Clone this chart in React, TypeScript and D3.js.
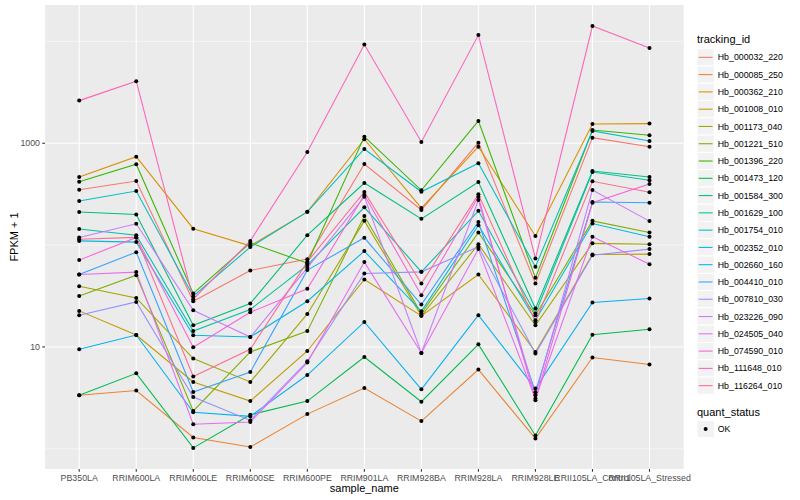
import { useRef, useEffect } from 'react';
import * as d3 from 'd3';

const WIDTH = 800;
const HEIGHT = 500;
const PANEL = { left: 45, right: 683.7, top: 5, bottom: 469 };
const FONT = '"Liberation Sans", Arial, Helvetica, sans-serif';

const samples = [
  'PB350LA', 'RRIM600LA', 'RRIM600LE', 'RRIM600SE', 'RRIM600PE', 'RRIM901LA',
  'RRIM928BA', 'RRIM928LA', 'RRIM928LE', 'RRII105LA_Control', 'RRII105LA_Stressed',
];

const trackingIds = [
  'Hb_000032_220', 'Hb_000085_250', 'Hb_000362_210', 'Hb_001008_010', 'Hb_001173_040',
  'Hb_001221_510', 'Hb_001396_220', 'Hb_001473_120', 'Hb_001584_300', 'Hb_001629_100',
  'Hb_001754_010', 'Hb_002352_010', 'Hb_002660_160', 'Hb_004410_010', 'Hb_007810_030',
  'Hb_023226_090', 'Hb_024505_040', 'Hb_074590_010', 'Hb_111648_010', 'Hb_116264_010',
];

// ggplot2 default hue palette for 20 levels
const hueColors = [
  '#F8766D', '#EA8331', '#D89000', '#C09B00', '#A3A500', '#7CAE00', '#39B600',
  '#00BB4E', '#00BF7D', '#00C1A3', '#00BFC4', '#00BAE0', '#00B0F6', '#35A2FF',
  '#9590FF', '#C77CFF', '#E76BF3', '#FA62DB', '#FF62BC', '#FF6C91',
];

// FPKM + 1, one array per gene, in sample order
const hb000032 = [350, 426, 28.1, 56.4, 72.8, 626, 221, 1014, 42.0, 1135, 926];
const hb000085 = [3.35, 3.73, 1.29, 1.04, 2.19, 3.95, 1.87, 5.99, 1.26, 7.87, 6.71];
const hb000362 = [466, 738, 145, 98.4, 212, 1095, 231, 926, 123, 1548, 1559];
const hb001008 = [22.6, 13.1, 4.53, 2.94, 9.13, 46.0, 20.2, 51.5, 8.93, 81.0, 81.6];
const hb001173 = [39.5, 30.3, 7.69, 4.53, 21.1, 173, 20.2, 102, 16.3, 104, 102];
const hb001221 = [31.7, 50.7, 2.35, 8.93, 14.3, 193, 21.3, 133, 20.5, 173, 133];
const hb001396 = [419, 622, 33.5, 105, 66.5, 1161, 345, 1657, 47.7, 1351, 1198];
const hb001473 = [3.35, 5.51, 1.02, 2.16, 2.94, 7.97, 2.90, 10.6, 1.35, 13.2, 14.9];
const hb001584 = [211, 200, 16.3, 26.7, 125, 407, 181, 416, 23.8, 534, 466];
const hb001629 = [144, 125, 14.3, 23.3, 63.6, 235, 54.6, 217, 21.3, 522, 433];
const hb001754 = [271, 340, 31.5, 95.6, 212, 879, 334, 636, 61.2, 1321, 1053];
const hb002352 = [110, 107, 13.0, 12.5, 28.1, 87.3, 22.4, 157, 18.3, 163, 121];
const hb002660 = [9.49, 13.1, 2.28, 2.08, 5.30, 17.6, 3.84, 20.5, 3.90, 27.3, 29.9];
const hb004410 = [51.5, 85.3, 3.61, 5.68, 56.8, 118, 26.1, 169, 3.59, 265, 261];
const hb007810 = [20.5, 27.7, 3.22, 1.90, 7.23, 52.7, 54.6, 96.2, 8.61, 79.7, 91.3];
const hb023226 = [119, 162, 22.9, 12.5, 59.8, 298, 8.73, 277, 3.35, 347, 172];
const hb024505 = [51.5, 54.3, 1.74, 1.83, 7.02, 68.1, 8.73, 91.3, 3.11, 121, 65.0];
const hb074590 = [71.2, 119, 9.93, 21.9, 37.2, 310, 32.2, 298, 2.99, 261, 398];
const hb111648 = [2622, 4070, 29.4, 110, 821, 9322, 1030, 11530, 74.0, 14140, 8593];
const hb116264 = [114, 119, 5.12, 9.49, 68.5, 332, 42.0, 315, 17.6, 423, 330];

const seriesValues = [
  hb000032, hb000085, hb000362, hb001008, hb001173, hb001221, hb001396, hb001473,
  hb001584, hb001629, hb001754, hb002352, hb002660, hb004410, hb007810, hb023226,
  hb024505, hb074590, hb111648, hb116264,
];

const yMajor = [10, 1000];
const yMinor = [1, 100, 10000];

interface Pt { sample: string; value: number; }

export default function App() {
  const svgRef = useRef<SVGSVGElement>(null);

  useEffect(() => {
    if (!svgRef.current) return;
    const svg = d3.select(svgRef.current);
    svg.selectAll('*').remove();

    // ── Scales ─────────────────────────────────────────────────────────
    const x = d3.scalePoint<string>().domain(samples).range([PANEL.left, PANEL.right]).padding(0.6);

    const allLogs = seriesValues.flat().map((v) => Math.log10(v));
    const lo = d3.min(allLogs)!;
    const hi = d3.max(allLogs)!;
    const pad = (hi - lo) * 0.05;
    const y = d3
      .scaleLog()
      .domain([Math.pow(10, lo - pad), Math.pow(10, hi + pad)])
      .range([PANEL.bottom, PANEL.top]);

    svg.append('rect').attr('width', WIDTH).attr('height', HEIGHT).attr('fill', '#ffffff');

    // ── Panel + grid ───────────────────────────────────────────────────
    svg.append('rect')
      .attr('x', PANEL.left).attr('y', PANEL.top)
      .attr('width', PANEL.right - PANEL.left).attr('height', PANEL.bottom - PANEL.top)
      .attr('fill', '#EBEBEB');

    const grid = svg.append('g').attr('stroke', '#ffffff');
    grid.selectAll('line.minor')
      .data(yMinor)
      .join('line')
      .attr('x1', PANEL.left).attr('x2', PANEL.right)
      .attr('y1', (d) => y(d)).attr('y2', (d) => y(d))
      .attr('stroke-width', 0.53);
    grid.selectAll('line.major')
      .data(yMajor)
      .join('line')
      .attr('x1', PANEL.left).attr('x2', PANEL.right)
      .attr('y1', (d) => y(d)).attr('y2', (d) => y(d))
      .attr('stroke-width', 1.07);
    grid.selectAll('line.vert')
      .data(samples)
      .join('line')
      .attr('x1', (d) => x(d)!).attr('x2', (d) => x(d)!)
      .attr('y1', PANEL.top).attr('y2', PANEL.bottom)
      .attr('stroke-width', 1.07);

    // ── Lines ──────────────────────────────────────────────────────────
    const line = d3.line<Pt>().x((d) => x(d.sample)!).y((d) => y(d.value));
    seriesValues.forEach((vals, i) => {
      const pts = vals.map((v, j) => ({ sample: samples[j], value: v }));
      svg.append('path')
        .datum(pts)
        .attr('fill', 'none')
        .attr('stroke', hueColors[i])
        .attr('stroke-width', 1.07)
        .attr('d', line);
    });

    // ── Points ─────────────────────────────────────────────────────────
    const pts = seriesValues.flatMap((vals) => vals.map((v, j) => ({ sample: samples[j], value: v })));
    svg.append('g')
      .selectAll('circle')
      .data(pts)
      .join('circle')
      .attr('cx', (d) => x(d.sample)!)
      .attr('cy', (d) => y(d.value))
      .attr('r', 2)
      .attr('fill', '#000000');

    // ── Axes ───────────────────────────────────────────────────────────
    const axisCol = '#333333';
    const tickTxt = '#4D4D4D';

    const yAx = svg.append('g');
    yAx.selectAll('line')
      .data(yMajor)
      .join('line')
      .attr('x1', PANEL.left - 2.75).attr('x2', PANEL.left)
      .attr('y1', (d) => y(d)).attr('y2', (d) => y(d))
      .attr('stroke', axisCol).attr('stroke-width', 1.07);
    yAx.selectAll('text')
      .data(yMajor)
      .join('text')
      .attr('x', PANEL.left - 5)
      .attr('y', (d) => y(d) + 3.1)
      .attr('text-anchor', 'end')
      .attr('font-family', FONT)
      .attr('font-size', 8.8)
      .attr('fill', tickTxt)
      .text((d) => String(d));

    const xAx = svg.append('g');
    xAx.selectAll('line')
      .data(samples)
      .join('line')
      .attr('x1', (d) => x(d)!).attr('x2', (d) => x(d)!)
      .attr('y1', PANEL.bottom).attr('y2', PANEL.bottom + 2.75)
      .attr('stroke', axisCol).attr('stroke-width', 1.07);
    xAx.selectAll('text')
      .data(samples)
      .join('text')
      .attr('x', (d) => x(d)!)
      .attr('y', PANEL.bottom + 11.5)
      .attr('text-anchor', 'middle')
      .attr('font-family', FONT)
      .attr('font-size', 8.8)
      .attr('fill', tickTxt)
      .text((d) => d);

    svg.append('text')
      .attr('x', (PANEL.left + PANEL.right) / 2)
      .attr('y', 492)
      .attr('text-anchor', 'middle')
      .attr('font-family', FONT)
      .attr('font-size', 11)
      .attr('fill', '#000000')
      .text('sample_name');

    svg.append('text')
      .attr('transform', `translate(17.5,${(PANEL.top + PANEL.bottom) / 2}) rotate(-90)`)
      .attr('text-anchor', 'middle')
      .attr('font-family', FONT)
      .attr('font-size', 11)
      .attr('fill', '#000000')
      .text('FPKM + 1');

    // ── Legend: tracking_id ────────────────────────────────────────────
    const KEY = 17.28;
    const LX = 697;
    const firstKeyY = 48.7;
    const leg = svg.append('g');
    leg.append('text')
      .attr('x', LX).attr('y', 42.5)
      .attr('font-family', FONT).attr('font-size', 11).attr('fill', '#000000')
      .text('tracking_id');

    const items = leg.selectAll('g.item')
      .data(trackingIds)
      .join('g')
      .attr('transform', (_, i) => `translate(${LX},${firstKeyY + i * KEY})`);
    items.append('rect')
      .attr('width', KEY).attr('height', KEY)
      .attr('fill', '#F2F2F2').attr('stroke', '#ffffff').attr('stroke-width', 1);
    items.append('line')
      .attr('x1', 1.7).attr('x2', KEY - 1.7)
      .attr('y1', KEY / 2).attr('y2', KEY / 2)
      .attr('stroke', (_, i) => hueColors[i]).attr('stroke-width', 1.07);
    items.append('text')
      .attr('x', KEY + 3.5).attr('y', KEY / 2 + 3.1)
      .attr('font-family', FONT).attr('font-size', 8.8).attr('fill', '#000000')
      .text((d) => d);

    // ── Legend: quant_status ───────────────────────────────────────────
    leg.append('text')
      .attr('x', LX).attr('y', 416)
      .attr('font-family', FONT).attr('font-size', 11).attr('fill', '#000000')
      .text('quant_status');
    const ok = leg.append('g').attr('transform', `translate(${LX},420.4)`);
    ok.append('rect')
      .attr('width', KEY).attr('height', KEY)
      .attr('fill', '#F2F2F2').attr('stroke', '#ffffff').attr('stroke-width', 1);
    ok.append('circle')
      .attr('cx', KEY / 2).attr('cy', KEY / 2).attr('r', 2).attr('fill', '#000000');
    ok.append('text')
      .attr('x', KEY + 3.5).attr('y', KEY / 2 + 3.1)
      .attr('font-family', FONT).attr('font-size', 8.8).attr('fill', '#000000')
      .text('OK');
  }, []);

  return (
    <svg
      ref={svgRef}
      width={WIDTH}
      height={HEIGHT}
      viewBox={`0 0 ${WIDTH} ${HEIGHT}`}
      style={{ position: 'absolute', left: 0, top: 0, display: 'block' }}
    />
  );
}
